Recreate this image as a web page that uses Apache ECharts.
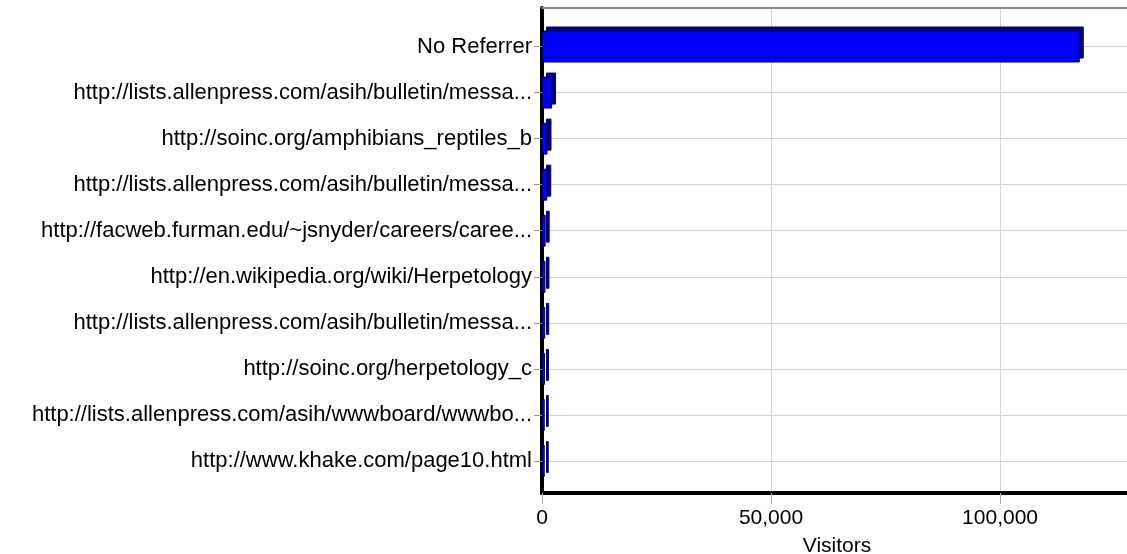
<!DOCTYPE html>
<html>
<head>
<meta charset="utf-8">
<script src="https://cdn.jsdelivr.net/npm/echarts@6/dist/echarts.min.js"></script>
<style>
  html, body { margin: 0; padding: 0; background: #ffffff; }
  #chart { width: 1127px; height: 554px; }
</style>
</head>
<body>
<div id="chart"></div>
<script>
// referrers, top to bottom
var referrers = [
  'No Referrer',
  'http://lists.allenpress.com/asih/bulletin/messa...',
  'http://soinc.org/amphibians_reptiles_b',
  'http://lists.allenpress.com/asih/bulletin/messa...',
  'http://facweb.furman.edu/~jsnyder/careers/caree...',
  'http://en.wikipedia.org/wiki/Herpetology',
  'http://lists.allenpress.com/asih/bulletin/messa...',
  'http://soinc.org/herpetology_c',
  'http://lists.allenpress.com/asih/wwwboard/wwwbo...',
  'http://www.khake.com/page10.html'
]
var visitors = [117400, 2200, 1200, 1150, 800, 750, 700, 650, 600, 600]
var xTicks = [0, 50000, 100000]
var xMax = 128800

var myChart = echarts.init(document.getElementById('chart'))
var font = 'Liberation Sans, Arial, sans-serif'

var option = {
  backgroundColor: '#ffffff',
  animation: false,
  grid: [
    // frame grid
    { left: 542, right: -5, top: 8, bottom: 61, outerBoundsMode: 'none', containLabel: false },
    // bars grid, category centres on ticks
    { left: 542, right: -5, top: 46.5, bottom: 93, outerBoundsMode: 'none', containLabel: false }
  ],
  xAxis: [
    {
      gridIndex: 0,
      type: 'value',
      min: 0,
      max: xMax,
      interval: 50000,
      name: 'Visitors',
      nameLocation: 'middle',
      nameGap: 43,
      nameTextStyle: { fontFamily: font, fontSize: 21, color: '#000' },
      axisLine: { show: true, lineStyle: { color: '#000', width: 4 } },
      axisTick: { show: true, length: 11, lineStyle: { color: '#aaa', width: 1 } },
      axisLabel: {
        showMaxLabel: false,
        margin: 15,
        fontFamily: font,
        fontSize: 21,
        color: '#000',
        formatter: function(v) {
          return xTicks.indexOf(v) >= 0 ? echarts.format.addCommas(v) : ''
        }
      },
      splitLine: { show: true, lineStyle: { color: '#d4d4d4', width: 1 } }
    },
    {
      gridIndex: 0,
      type: 'value',
      position: 'top',
      min: 0,
      max: xMax,
      axisLine: { show: true, lineStyle: { color: '#888', width: 2 } },
      axisTick: { show: false },
      axisLabel: { show: false },
      splitLine: { show: false }
    },
    {
      gridIndex: 1,
      type: 'value',
      min: 0,
      max: xMax,
      show: false
    }
  ],
  yAxis: [
    {
      gridIndex: 0,
      type: 'value',
      axisLine: { show: true, lineStyle: { color: '#000', width: 4 } },
      axisTick: { show: false },
      axisLabel: { show: false },
      splitLine: { show: false }
    },
    {
      gridIndex: 1,
      type: 'category',
      inverse: true,
      boundaryGap: false,
      data: referrers,
      axisLine: { show: false },
      axisTick: { show: true, length: 8, lineStyle: { color: '#999' } },
      axisLabel: {
        margin: 10,
        fontFamily: font,
        fontSize: 22,
        color: '#000'
      },
      splitLine: { show: true, lineStyle: { color: '#cfcfcf', width: 1 } }
    }
  ],
  series: [
    {
      type: 'bar',
      xAxisIndex: 2,
      yAxisIndex: 1,
      data: visitors,
      barWidth: 32,
      clip: false,
      itemStyle: {
        color: '#0000ff',
        borderColor: '#00004a',
        borderWidth: 1,
        shadowColor: '#000080',
        shadowBlur: 0,
        shadowOffsetX: 4,
        shadowOffsetY: -4
      }
    }
  ]
}
myChart.setOption(option, true)
</script>
</body>
</html>
